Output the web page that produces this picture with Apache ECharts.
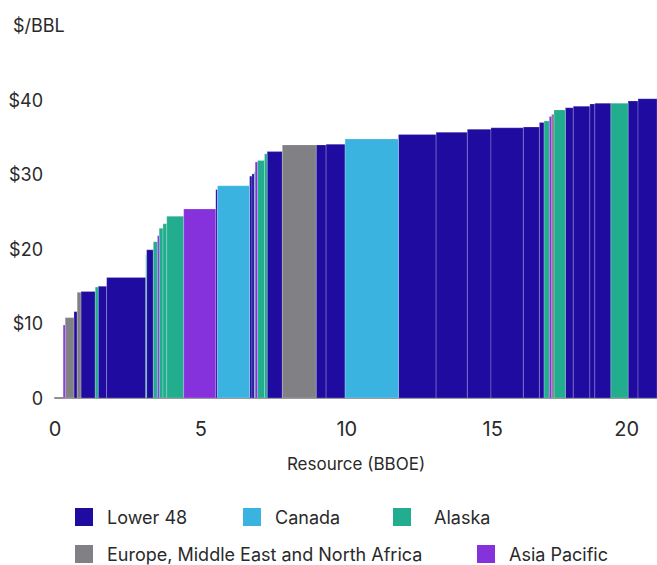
<!DOCTYPE html>
<html>
<head>
<meta charset="utf-8">
<script src="https://cdn.jsdelivr.net/npm/echarts@6/dist/echarts.min.js"></script>
<style>
html,body{margin:0;padding:0;background:#fff;}
#chart{width:657px;height:565px;}
</style>
</head>
<body>
<div id="chart"></div>
<script>
// Region names (legend) and colours
const regionNames = ['Lower 48', 'Canada', 'Alaska', 'Europe, Middle East and North Africa', 'Asia Pacific'];
const regionColors = ['#1f0ba0', '#3bb3e0', '#22ad8e', '#808085', '#8532dc'];

// Cost curve: region code (index into regionNames), resource volume (BBOE), cost ($/BBL)
const resourceStart = 0.28;
const barRegion = [4,3,0,3,0,2,0,0,2,0, 2,4,2,2,2,4,0,1,0,0, 2,4,2,2,0,3,0,0,1,0, 0,0,0,0,0,2,4,3,2,0, 0,0,0,2,0,0];
const barVolume = [0.07,0.30,0.11,0.13,0.49,0.10,0.29,1.34,0.03,0.23, 0.14,0.06,0.13,0.13,0.58,1.10,0.06,1.10,0.08,0.08, 0.03,0.08,0.24,0.09,0.52,1.16,0.34,0.65,1.83,1.29, 1.07,0.81,1.11,0.55,0.16,0.18,0.08,0.08,0.39,0.27, 0.57,0.17,0.55,0.59,0.34,0.75];
const barCost = [9.8,10.8,11.6,14.2,14.3,14.9,15.0,16.2,19.2,19.9, 21.0,21.8,22.8,23.4,24.4,25.4,28.0,28.5,29.8,30.1, 30.4,31.7,31.9,32.8,33.1,34.0,34.0,34.1,34.8,35.4, 35.7,36.1,36.3,36.4,37.0,37.2,37.8,38.1,38.7,39.0, 39.2,39.5,39.6,39.6,39.9,40.2];

// Axis ticks
const xTicks = [0, 5, 10, 15, 20];
const yTicks = [0, 10, 20, 30, 40];

// Build [start, end, cost] rows per region
const seriesData = regionNames.map(() => []);
let cum = resourceStart;
for (let i = 0; i < barVolume.length; i++) {
  const s = cum, e = cum + barVolume[i];
  seriesData[barRegion[i]].push([s, e, barCost[i]]);
  cum = e;
}

function renderItem(params, api) {
  const x0 = api.value(0), x1 = api.value(1), v = api.value(2);
  const p0 = api.coord([x0, v]);
  const p1 = api.coord([x1, 0]);
  const cs = params.coordSys;
  const shape = echarts.graphic.clipRectByRect(
    {x: p0[0], y: p0[1], width: p1[0] - p0[0], height: p1[1] - p0[1]},
    {x: cs.x, y: cs.y, width: cs.width, height: cs.height});
  if (!shape) return;
  return {
    type: 'rect',
    shape: shape,
    style: {fill: api.visual('color'), stroke: 'rgba(255,255,255,0.35)', lineWidth: 0.6}
  };
}

const FONT = 'Inter, Roboto, sans-serif';
const TXT = '#2a2a2a';

const legendPos = [
  {left: 75, top: 508, pad: 9},
  {left: 243, top: 508, pad: 9},
  {left: 393, top: 508, pad: 18},
  {left: 75, top: 545, pad: 9},
  {left: 477, top: 545, pad: 9}
];

const chart = echarts.init(document.getElementById('chart'), null, {renderer: 'svg'});
chart.setOption({
  animation: false,
  color: regionColors,
  title: {
    text: '$/BBL', left: 8, top: 11,
    textStyle: {fontFamily: FONT, fontSize: 18, fontWeight: 'normal', color: TXT}
  },
  grid: {left: 55, right: 0, top: 63, bottom: 167, containLabel: false},
  legend: regionNames.map((n, i) => ({
    data: [n], left: legendPos[i].left, top: legendPos[i].top, padding: 0,
    icon: 'rect', itemWidth: 18, itemHeight: 18, selectedMode: false,
    textStyle: {fontFamily: FONT, fontSize: 18, color: TXT, padding: [0, 0, 0, legendPos[i].pad]}
  })),
  xAxis: {
    type: 'value', min: 0, max: 20.63, interval: 5,
    name: 'Resource (BBOE)', nameLocation: 'middle', nameGap: 57,
    nameTextStyle: {fontFamily: FONT, fontSize: 17, color: TXT},
    axisLine: {show: true, lineStyle: {color: '#8f8f8f', width: 2}},
    axisTick: {show: false},
    splitLine: {show: false},
    axisLabel: {
      margin: 21, fontFamily: FONT, fontSize: 20, color: TXT, showMaxLabel: false,
      formatter: v => xTicks.indexOf(v) < 0 ? '' : (v === 20 ? '{r|20}' : String(v)),
      rich: {r: {fontFamily: FONT, fontSize: 20, color: TXT, padding: [0, 24, 0, 0]}}
    }
  },
  yAxis: {
    type: 'value', min: 0, max: 45, interval: 10,
    axisLine: {show: false}, axisTick: {show: false}, splitLine: {show: false},
    axisLabel: {
      margin: 12, fontFamily: FONT, fontSize: 18, color: TXT, showMaxLabel: false,
      formatter: v => yTicks.indexOf(v) < 0 ? '' : (v === 0 ? '0' : '$' + v)
    }
  },
  series: regionNames.map((n, i) => ({
    name: n, type: 'custom', renderItem: renderItem,
    encode: {x: [0, 1], y: 2},
    data: seriesData[i]
  }))
});
</script>
</body>
</html>
